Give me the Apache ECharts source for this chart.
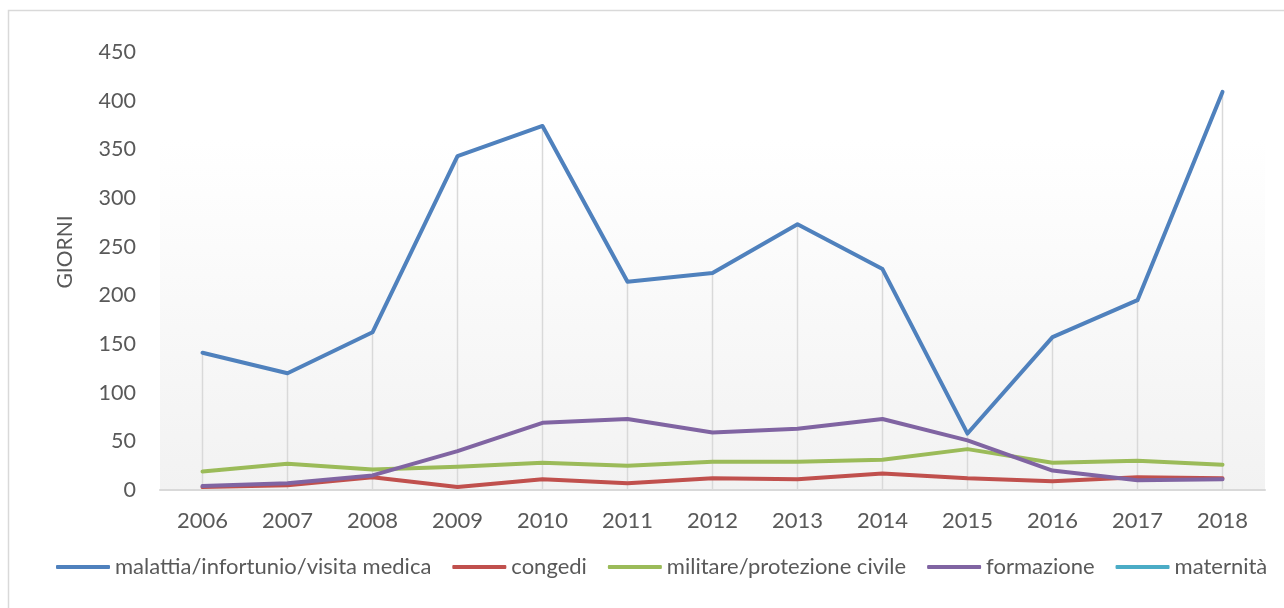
<!DOCTYPE html>
<html>
<head>
<meta charset="utf-8">
<script src="https://cdn.jsdelivr.net/npm/echarts@6/dist/echarts.min.js"></script>
<style>
  html, body { margin: 0; padding: 0; background: #fff; }
  #main { width: 1284px; height: 608px; }
</style>
</head>
<body>
<div id="main"></div>
<script>
// anni e valori
var anni = ['2006', '2007', '2008', '2009', '2010', '2011', '2012', '2013', '2014', '2015', '2016', '2017', '2018'];
var malattia = [141, 120, 162, 343, 374, 214, 223, 273, 227, 58, 157, 195, 409];
var congedi = [3, 5, 13, 3, 11, 7, 12, 11, 17, 12, 9, 13, 12];
var militare = [19, 27, 21, 24, 28, 25, 29, 29, 31, 42, 28, 30, 26];
var formazione = [4, 7, 15, 40, 69, 73, 59, 63, 73, 51, 20, 10, 11];
var maternita = [];
var nomi = ['malattia/infortunio/visita medica', 'congedi', 'militare/protezione civile', 'formazione', 'maternità'];
var colori = ['#4f81bd', '#c0504d', '#9bbb59', '#8064a2', '#4bacc6'];

// linee di proiezione: dal valore più alto fino all'asse
var massimi = anni.map(function (a, i) {
    return Math.max(malattia[i], congedi[i], militare[i], formazione[i]);
});

var font = 'Lato, "Noto Sans", sans-serif';
var testo = '#595959';

function linea(nome, dati, colore) {
    return {
        name: nome,
        type: 'line',
        data: dati,
        symbol: 'none',
        z: 3,
        itemStyle: { color: colore },
        lineStyle: { color: colore, width: 4, cap: 'round', join: 'round' }
    };
}

var myChart = echarts.init(document.getElementById('main'));
myChart.setOption({
    animation: false,
    textStyle: { fontFamily: font },
    graphic: [{
        type: 'rect',
        shape: { x: 8.5, y: 10.5, width: 1300, height: 640 },
        style: { fill: 'none', stroke: '#d9d9d9', lineWidth: 1.5 },
        silent: true
    }],
    grid: {
        left: 160, right: 19, top: 52, bottom: 118,
        show: true,
        borderWidth: 0,
        backgroundColor: {
            type: 'linear', x: 0, y: 0, x2: 0, y2: 1,
            colorStops: [
                { offset: 0, color: '#ffffff' },
                { offset: 0.2, color: '#ffffff' },
                { offset: 1, color: '#f2f2f2' }
            ]
        }
    },
    legend: {
        data: nomi,
        left: 56,
        top: 556,
        width: 1228,
        padding: 0,
        icon: 'roundRect',
        itemWidth: 54,
        itemHeight: 4,
        itemGap: 21,
        textStyle: { color: testo, fontSize: 22, fontFamily: font }
    },
    xAxis: {
        type: 'category',
        data: anni,
        boundaryGap: true,
        axisLine: { lineStyle: { color: '#d9d9d9', width: 2 } },
        axisTick: { show: false },
        axisLabel: { color: testo, fontSize: 22, margin: 20 }
    },
    yAxis: {
        type: 'value',
        min: 0,
        max: 450,
        interval: 50,
        name: 'GIORNI',
        nameLocation: 'middle',
        nameGap: 84,
        nameTextStyle: { color: testo, fontSize: 21, padding: [0, 0, 0, 38] },
        axisLine: { show: false },
        axisTick: { show: false },
        splitLine: { show: false },
        axisLabel: { color: testo, fontSize: 21.5, margin: 24 }
    },
    series: [
        {
            name: 'proiezione',
            type: 'bar',
            data: massimi,
            barWidth: 1.5,
            silent: true,
            z: 1,
            itemStyle: { color: '#d9d9d9' }
        },
        linea(nomi[0], malattia, colori[0]),
        linea(nomi[1], congedi, colori[1]),
        linea(nomi[2], militare, colori[2]),
        linea(nomi[3], formazione, colori[3]),
        linea(nomi[4], maternita, colori[4])
    ]
});
</script>
</body>
</html>
